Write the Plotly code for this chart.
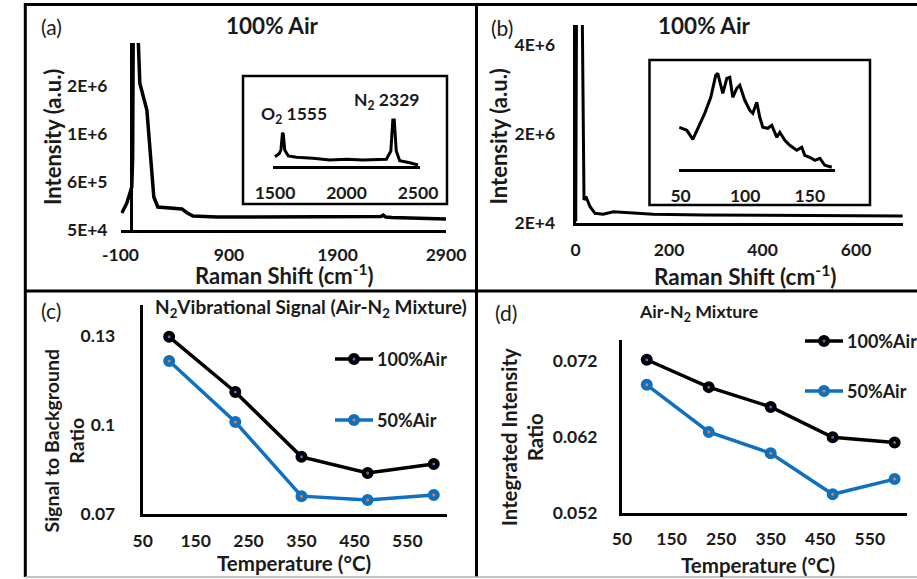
import plotly.graph_objects as go

W, H = 917, 579
FONT = "Lato"
TXT = "#1a1a1a"
BLUE = "#0F70C0"
ORANGE = "#ED7D31"
DOT = "#4472C4"

# ---------------- data ----------------
# (a) 100% Air survey spectrum; intensity axis uses relabelled (non-linear) ticks
a_shift = [-88, -42, 4, 12, 18, 45, 60, 78, 143, 189, 207, 244, 383, 466, 512, 568,
           789, 1555, 2250, 2300, 2322, 2345, 2400, 2900]
a_int = [0.345, 0.55, 0.89, 1.5, 4.5, 6.0, 4.2, 3.06, 2.5, 1.31, 0.68, 0.47, 0.45, 0.43,
         0.35, 0.28, 0.26, 0.26, 0.26, 0.27, 0.30, 0.26, 0.25, 0.22]
a_tickvals = [0, 1, 2, 3]
a_ticktext = ["5E+4", "6E+5", "1E+6", "2E+6"]
a_xticks = [-100, 900, 1900, 2900]

# (a) inset: O2 / N2 vibrational region
a_in_shift = [1500, 1530, 1542, 1552, 1558, 1568, 1593, 1651, 1765, 1884, 2000, 2114,
              2279, 2310, 2324, 2334, 2348, 2372, 2442, 2500]
a_in_int = [0.186, 0.25, 0.33, 0.66, 0.64, 0.32, 0.2, 0.174, 0.154, 0.12, 0.134, 0.12,
            0.134, 0.3, 0.92, 0.92, 0.3, 0.106, 0.066, 0.02]
a_in_ticks = [1500, 2000, 2500]

# (b) 100% Air low-wavenumber spectrum
b_shift = [0.3, 2, 14, 16.5, 18, 22, 31, 41.5, 59, 81, 109, 166, 273, 700]
b_int = [5e4, 5e6, 5e6, 1.5e6, 5.31e5, 6.06e5, 3.8e5, 2.32e5, 2.09e5, 2.68e5, 2.54e5,
         2.09e5, 1.93e5, 1.71e5]
b_tickvals = [2e4, 2.02e6, 4.02e6]
b_ticktext = ["2E+4", "2E+6", "4E+6"]
b_xticks = [0, 200, 400, 600]

# (b) inset: rotational band
b_in_shift = [49, 54.9, 59.5, 63.3, 68.7, 73.4, 77.2, 78.8, 82.7, 85.8, 88.1, 90.4, 93.5,
              95.8, 99.7, 103.6, 105.9, 109, 111.3, 113.6, 117.5, 120.6, 124.5, 126.8,
              130.7, 134.5, 139.9, 143.8, 146.1, 150, 153.9, 157.8, 161.6, 167]
b_in_int = [42, 39, 30, 41, 56, 72, 94, 96, 76, 91, 92, 72, 81, 84, 69, 59, 56, 67, 52,
            42, 41, 44, 32, 37, 29, 24, 19, 22, 14, 12, 9, 11, 4, 2]
b_in_ticks = [50, 100, 150]

# (c), (d) temperature series
temps = [100, 225, 350, 475, 600]
c_100 = [0.1296, 0.1111, 0.0893, 0.0839, 0.0869]
c_50 = [0.1215, 0.1010, 0.0761, 0.0748, 0.0765]
d_100 = [0.0722, 0.0686, 0.0660, 0.0620, 0.0613]
d_50 = [0.0689, 0.0627, 0.0599, 0.0545, 0.0565]
series_names = ["100%Air", "50%Air"]
temp_ticks = [50, 150, 250, 350, 450, 550]
c_ticks = [0.07, 0.10, 0.13]
c_ticktext = ["0.07", "0.1", "0.13"]
d_ticks = [0.052, 0.062, 0.072]
d_ticktext = ["0.052", "0.062", "0.072"]


# ---------------- helpers ----------------
def dx(p0, p1):
    return [p0 / W, p1 / W]


def dy(bottom, top):
    return [1 - bottom / H, 1 - top / H]


def tfont(size=17.5):
    return dict(family=FONT, size=size, color=TXT, weight="bold")


def ax(**kw):
    d = dict(showgrid=False, zeroline=False, ticks="", showline=True, linecolor="black",
             linewidth=3, tickfont=tfont(), fixedrange=True)
    d.update(kw)
    return d


def ann(text, x, y, size, bold=True, angle=0, xanchor="center"):
    return dict(text=text, x=x / W, y=1 - y / H, xref="paper", yref="paper",
                showarrow=False, xanchor=xanchor, yanchor="middle", textangle=angle,
                font=dict(family=FONT, size=size, color=TXT,
                          weight="bold" if bold else "normal"))


fig = go.Figure()

fig.add_trace(go.Scatter(x=a_shift, y=a_int, mode="lines", xaxis="x", yaxis="y",
                         line=dict(color="black", width=3.5), showlegend=False))
fig.add_trace(go.Scatter(x=a_in_shift, y=a_in_int, mode="lines", xaxis="x2", yaxis="y2",
                         line=dict(color="black", width=3), showlegend=False))
fig.add_trace(go.Scatter(x=b_shift, y=b_int, mode="lines", xaxis="x3", yaxis="y3",
                         line=dict(color="black", width=3), showlegend=False))
fig.add_trace(go.Scatter(x=b_in_shift, y=b_in_int, mode="lines", xaxis="x4", yaxis="y4",
                         line=dict(color="black", width=3), showlegend=False))


def series(x, y, xa, ya, name, lc, fc):
    return go.Scatter(x=x, y=y, mode="lines+markers", xaxis=xa, yaxis=ya, name=name,
                      showlegend=False, line=dict(color=lc, width=3.5),
                      marker=dict(size=7.5, color=fc, line=dict(color=lc, width=4.5)))


fig.add_trace(series(temps, c_100, "x5", "y5", series_names[0], "black", DOT))
fig.add_trace(series(temps, c_50, "x5", "y5", series_names[1], BLUE, ORANGE))
fig.add_trace(series(temps, d_100, "x6", "y6", series_names[0], "black", DOT))
fig.add_trace(series(temps, d_50, "x6", "y6", series_names[1], BLUE, ORANGE))

shapes = []
annotations = []


def line(x0, y0, x1, y1, w=3, c="black"):
    shapes.append(dict(type="line", xref="paper", yref="paper", x0=x0 / W, x1=x1 / W,
                       y0=1 - y0 / H, y1=1 - y1 / H, line=dict(color=c, width=w)))


def legend_entry(x0, x1, y, text, lc, fc):
    line(x0, y, x1, y, w=3.5, c=lc)
    xm = (x0 + x1) / 2
    r = 3.75
    shapes.append(dict(type="circle", xref="paper", yref="paper",
                       x0=(xm - r) / W, x1=(xm + r) / W, y0=1 - (y + r) / H, y1=1 - (y - r) / H,
                       fillcolor=fc, line=dict(color=lc, width=4.5)))
    annotations.append(ann(text, x1 + 2, y, 18, xanchor="left"))


line(25, 4.5, 917, 4.5)
line(25.3, 3, 25.3, 577)
line(476.5, 3, 476.5, 577)
line(25, 291, 917, 291)
line(25, 577, 917, 577, w=1.5, c="#b0b0b0")
for (x0, y0, x1, y1) in [(243, 76, 447, 204), (649.5, 60, 870, 205)]:
    shapes.append(dict(type="rect", xref="paper", yref="paper", x0=x0 / W, x1=x1 / W,
                       y0=1 - y1 / H, y1=1 - y0 / H, line=dict(color="black", width=2.5)))

legend_entry(335, 373, 359, series_names[0], "black", DOT)
legend_entry(335, 373, 420, series_names[1], BLUE, ORANGE)
legend_entry(805, 843, 341, series_names[0], "black", DOT)
legend_entry(805, 843, 391, series_names[1], BLUE, ORANGE)

annotations += [
    ann("(a)", 51, 27, 21, bold=False),
    ann("(b)", 502, 27.5, 21, bold=False),
    ann("(c)", 51, 311, 21, bold=False),
    ann("(d)", 506, 312.5, 21, bold=False),
    ann("100% Air", 272.5, 25.5, 22.5),
    ann("100% Air", 704, 25, 22.5),
    ann("N<sub>2</sub>Vibrational Signal (Air-N<sub>2</sub> Mixture)", 311, 308, 19),
    ann("Air-N<sub>2</sub> Mixture", 698, 312, 17.8),
    ann("O<sub>2</sub> 1555", 294, 115, 17.5),
    ann("N<sub>2</sub> 2329", 386, 101, 17.5),
    ann("Raman Shift (cm<sup>-1</sup>)", 284, 274, 22),
    ann("Raman Shift (cm<sup>-1</sup>)", 745, 275, 22.5),
    ann("Intensity (a.u.)", 52, 137, 22, angle=-90),
    ann("Intensity (a.u.)", 498, 136.5, 22, angle=-90),
    ann("Signal to Background<br>Ratio", 63, 441.5, 19.5, angle=-90),
    ann("Integrated Intensity<br>Ratio", 521.5, 437.5, 20.3, angle=-90),
    ann("Temperature (°C)", 294, 563, 20.5),
    ann("Temperature (°C)", 758, 565, 20.5),
]

fig.update_layout(
    width=W, height=H, margin=dict(l=0, r=0, t=0, b=0, autoexpand=False),
    paper_bgcolor="white", plot_bgcolor="white", showlegend=False,
    font=dict(family=FONT, color=TXT),
    xaxis=ax(domain=dx(120.5, 446), range=[-100, 2900], anchor="y",
             tickvals=a_xticks, ticktext=[str(v) for v in a_xticks],
             zeroline=True, zerolinecolor="black", zerolinewidth=3, ticklabelstandoff=7),
    yaxis=ax(domain=dy(229.5, 43), range=[0, 3.9], anchor="x", showline=False,
             tickvals=a_tickvals, ticktext=a_ticktext, ticklabelstandoff=12),
    xaxis2=ax(domain=dx(273.3, 420), range=[1488, 2514], anchor="y2",
              tickvals=a_in_ticks, ticktext=[str(v) for v in a_in_ticks], ticklabelstandoff=9),
    yaxis2=dict(domain=dy(166, 106), range=[0, 1.2], anchor="x2", visible=False, fixedrange=True),
    xaxis3=ax(domain=dx(575.6, 902.8), range=[0, 700], anchor="y3",
              tickvals=b_xticks, ticktext=[str(v) for v in b_xticks], ticklabelstandoff=9),
    yaxis3=ax(domain=dy(222.7, 25), range=[2e4, 4.47e6], anchor="x3",
              tickvals=b_tickvals, ticktext=b_ticktext, ticklabelstandoff=14),
    xaxis4=ax(domain=dx(679, 835), range=[48.8, 169.5], anchor="y4",
              tickvals=b_in_ticks, ticktext=[str(v) for v in b_in_ticks], ticklabelstandoff=9),
    yaxis4=dict(domain=dy(169.3, 59.3), range=[0, 110], anchor="x4", visible=False, fixedrange=True),
    xaxis5=ax(domain=dx(142.7, 447), range=[50, 625], anchor="y5",
              tickvals=temp_ticks, ticktext=[str(v) for v in temp_ticks], ticklabelstandoff=9),
    yaxis5=ax(domain=dy(514.3, 305), range=[0.07, 0.1403], anchor="x5",
              tickvals=c_ticks, ticktext=c_ticktext, ticklabelstandoff=21),
    xaxis6=ax(domain=dx(622, 907), range=[50, 625], anchor="y6",
              tickvals=temp_ticks, ticktext=[str(v) for v in temp_ticks], ticklabelstandoff=8),
    yaxis6=ax(domain=dy(513.3, 340), range=[0.052, 0.0748], anchor="x6",
              tickvals=d_ticks, ticktext=d_ticktext, ticklabelstandoff=18),
    shapes=shapes,
    annotations=annotations,
)

fig.write_html("out.html", config={"displayModeBar": False},
               post_script="document.body.style.margin='0px';")
